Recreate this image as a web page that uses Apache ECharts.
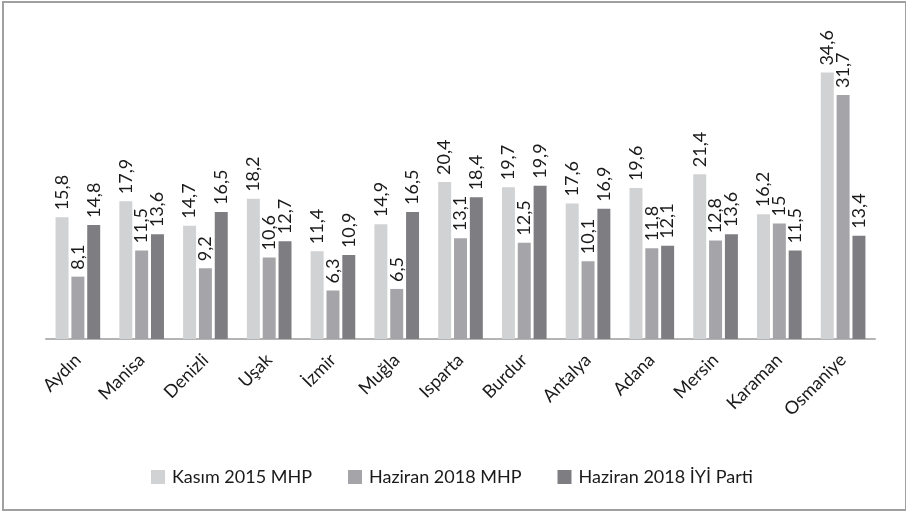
<!DOCTYPE html>
<html>
<head>
<meta charset="utf-8">
<script src="https://cdn.jsdelivr.net/npm/echarts@6/dist/echarts.min.js"></script>
<style>
  html, body { margin: 0; padding: 0; background: #fff; }
  #frame {
    position: absolute; left: 2px; top: 1px; width: 901px; height: 506px;
    border: 2px solid #a0a0a0; box-sizing: content-box;
  }
  #chart { position: absolute; left: 0; top: 0; width: 906px; height: 511px; }
</style>
</head>
<body>
<div id="frame"></div>
<div id="chart"></div>
<script>
const cities = ["Aydın", "Manisa", "Denizli", "Uşak", "İzmir", "Muğla", "Isparta", "Burdur", "Antalya", "Adana", "Mersin", "Karaman", "Osmaniye"];
const kasim2015Mhp = [15.8, 17.9, 14.7, 18.2, 11.4, 14.9, 20.4, 19.7, 17.6, 19.6, 21.4, 16.2, 34.6];
const haziran2018Mhp = [8.1, 11.5, 9.2, 10.6, 6.3, 6.5, 13.1, 12.5, 10.1, 11.8, 12.8, 15, 31.7];
const haziran2018Iyi = [14.8, 13.6, 16.5, 12.7, 10.9, 16.5, 18.4, 19.9, 16.9, 12.1, 13.6, 11.5, 13.4];
const seriesNames = ["Kasım 2015 MHP", "Haziran 2018 MHP", "Haziran 2018 İYİ Parti"];
const colors = ["#d1d2d4", "#a5a5a9", "#7e7d82"];

const font = "Lato";
const chart = echarts.init(document.getElementById("chart"), null, { renderer: "canvas" });

function barSeries(name, values, color) {
  return {
    name: name,
    type: "bar",
    data: values,
    barGap: "22%",
    barCategoryGap: "30%",
    itemStyle: { color: color },
    label: {
      show: true,
      position: "top",
      rotate: 90,
      align: "left",
      verticalAlign: "middle",
      distance: 7,
      color: "#1a1a1a",
      fontFamily: font,
      fontSize: 18,
      formatter: (p) => String(p.value).replace(".", ","),
    },
  };
}

chart.setOption({
  animation: false,
  color: colors,
  grid: { left: 46, right: 31, top: 31, bottom: 172, containLabel: false },
  legend: {
    left: 146,
    top: 463,
    itemWidth: 14,
    itemHeight: 14,
    itemGap: 36,
    icon: "rect",
    textStyle: { fontFamily: font, fontSize: 18, color: "#1a1a1a", padding: [0, 0, 0, 2] },
    data: seriesNames,
  },
  xAxis: {
    type: "category",
    data: cities,
    axisLine: { lineStyle: { color: "#b4b4b4", width: 2 } },
    axisTick: { show: false },
    axisLabel: {
      rotate: 45,
      margin: 18,
      color: "#1a1a1a",
      fontFamily: font,
      fontSize: 18,
      interval: 0,
    },
  },
  yAxis: {
    type: "value",
    min: 0,
    max: 40,
    show: false,
    splitLine: { show: false },
  },
  series: [
    barSeries(seriesNames[0], kasim2015Mhp, colors[0]),
    barSeries(seriesNames[1], haziran2018Mhp, colors[1]),
    barSeries(seriesNames[2], haziran2018Iyi, colors[2]),
  ],
});
</script>
</body>
</html>
